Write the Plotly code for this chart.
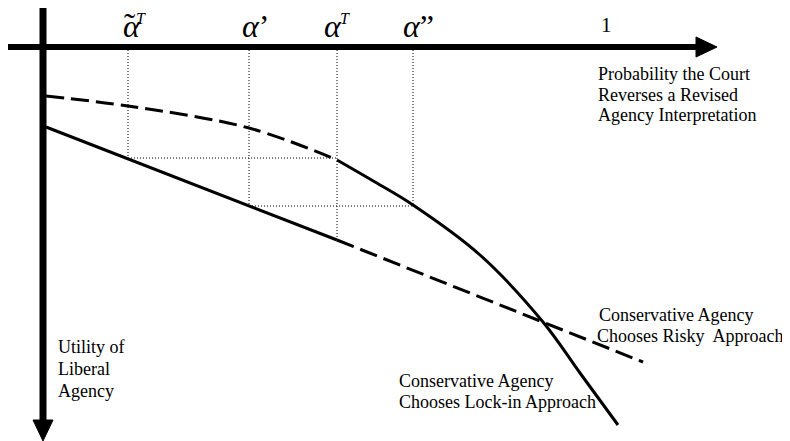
import plotly.graph_objects as go

# Frame is laid out in screen units: x to the right, y downward from the top
# Upper curve (dashed part, then solid part after alpha^T)
upper_dash_x = [46, 128, 249, 337]
upper_dash_y = [96, 106, 128, 160]
upper_solid_x = [337, 375, 413, 480, 543, 580, 618]
upper_solid_y = [160, 182, 205, 255, 322, 373, 425]

# Lower line (solid up to alpha^T, dashed afterwards)
lower_solid_x = [46, 337]
lower_solid_y = [127, 240]
lower_dash_x = [337, 643]
lower_dash_y = [240, 362]

# Guide points on the horizontal axis
tick_x = [128, 249, 337, 413]
tick_y_end = [158, 206, 240, 206]
tick_labels = ["<i>α</i>", "<i>α</i>’", "<i>α</i>", "<i>α</i>”"]
tick_label_left = [121, 240, 322, 401]
h_guides = [(128, 337, 158), (249, 413, 206)]
axis_y = 47
axis_x = 43

fig = go.Figure()

dash_style = "18px,7px"
fig.add_trace(go.Scatter(x=upper_dash_x, y=upper_dash_y, mode="lines", line_shape="spline",
                         line=dict(color="black", width=3, dash=dash_style)))
fig.add_trace(go.Scatter(x=upper_solid_x, y=upper_solid_y, mode="lines", line_shape="spline",
                         line=dict(color="black", width=3)))
fig.add_trace(go.Scatter(x=lower_solid_x, y=lower_solid_y, mode="lines",
                         line=dict(color="black", width=3)))
fig.add_trace(go.Scatter(x=lower_dash_x, y=lower_dash_y, mode="lines",
                         line=dict(color="black", width=3, dash=dash_style)))

# dotted guides
for x, y1 in zip(tick_x, tick_y_end):
    fig.add_trace(go.Scatter(x=[x, x], y=[axis_y + 3, y1], mode="lines",
                             line=dict(color="black", width=1, dash="1px,2px")))
for x0, x1, y in h_guides:
    fig.add_trace(go.Scatter(x=[x0, x1], y=[y, y], mode="lines",
                             line=dict(color="black", width=1, dash="1px,2px")))

# axes with arrow heads
shapes = [
    dict(type="line", x0=8, x1=700, y0=axis_y, y1=axis_y, line=dict(color="black", width=6)),
    dict(type="path", path=f"M 696 {axis_y-10} L 717 {axis_y} L 696 {axis_y+10} Z",
         fillcolor="black", line=dict(color="black", width=1)),
    dict(type="line", x0=axis_x, x1=axis_x, y0=7, y1=424, line=dict(color="black", width=7)),
    dict(type="path", path=f"M {axis_x-10} 420 L {axis_x} 441 L {axis_x+10} 420 Z",
         fillcolor="black", line=dict(color="black", width=1)),
]

serif = "Liberation Serif, Times New Roman, serif"
annotations = []
for x, lab in zip(tick_label_left, tick_labels):
    annotations.append(dict(x=x, y=26, text=lab, showarrow=False, xanchor="left", yanchor="middle",
                            font=dict(family=serif, size=32, color="black")))
# superscript T marks and the tilde
for x in [141, 345]:
    annotations.append(dict(x=x, y=18.5, text="<i>T</i>", showarrow=False, xanchor="center",
                            yanchor="middle", font=dict(family=serif, size=16, color="black")))
annotations.append(dict(x=130, y=25.5, text="˜", showarrow=False, xanchor="center", yanchor="middle",
                        font=dict(family=serif, size=34, color="black")))
annotations.append(dict(x=606, y=25, text="1", showarrow=False, xanchor="center", yanchor="middle",
                        font=dict(family=serif, size=21, color="black")))

texts = [
    (596, "left", [74, 94.5, 115], ["Probability the Court", "Reverses a Revised", "Agency Interpretation"]),
    (56, "left", [347, 369, 391], ["Utility of", "Liberal", "Agency"]),
    (597, "left", [315], ["Conservative Agency"]),
    (786, "right", [336], ["Chooses Risky\u00a0 Approach"]),
    (397, "left", [381, 402], ["Conservative Agency", "Chooses Lock-in Approach"]),
]
for x, anchor, ys, lines in texts:
    for y, t in zip(ys, lines):
        annotations.append(dict(x=x, y=y, text=t, showarrow=False, xanchor=anchor, yanchor="middle",
                                font=dict(family=serif, size=18, color="black")))

# page body has an 8px margin, so the figure is sized to fit inside the window
fig.update_layout(
    width=782, height=433, autosize=False,
    margin=dict(l=0, r=0, t=0, b=0),
    paper_bgcolor="white", plot_bgcolor="white",
    showlegend=False,
    xaxis=dict(range=[8, 790], visible=False, fixedrange=True),
    yaxis=dict(range=[441, 8], visible=False, fixedrange=True),
    shapes=shapes, annotations=annotations,
)

fig.write_html("out.html")
